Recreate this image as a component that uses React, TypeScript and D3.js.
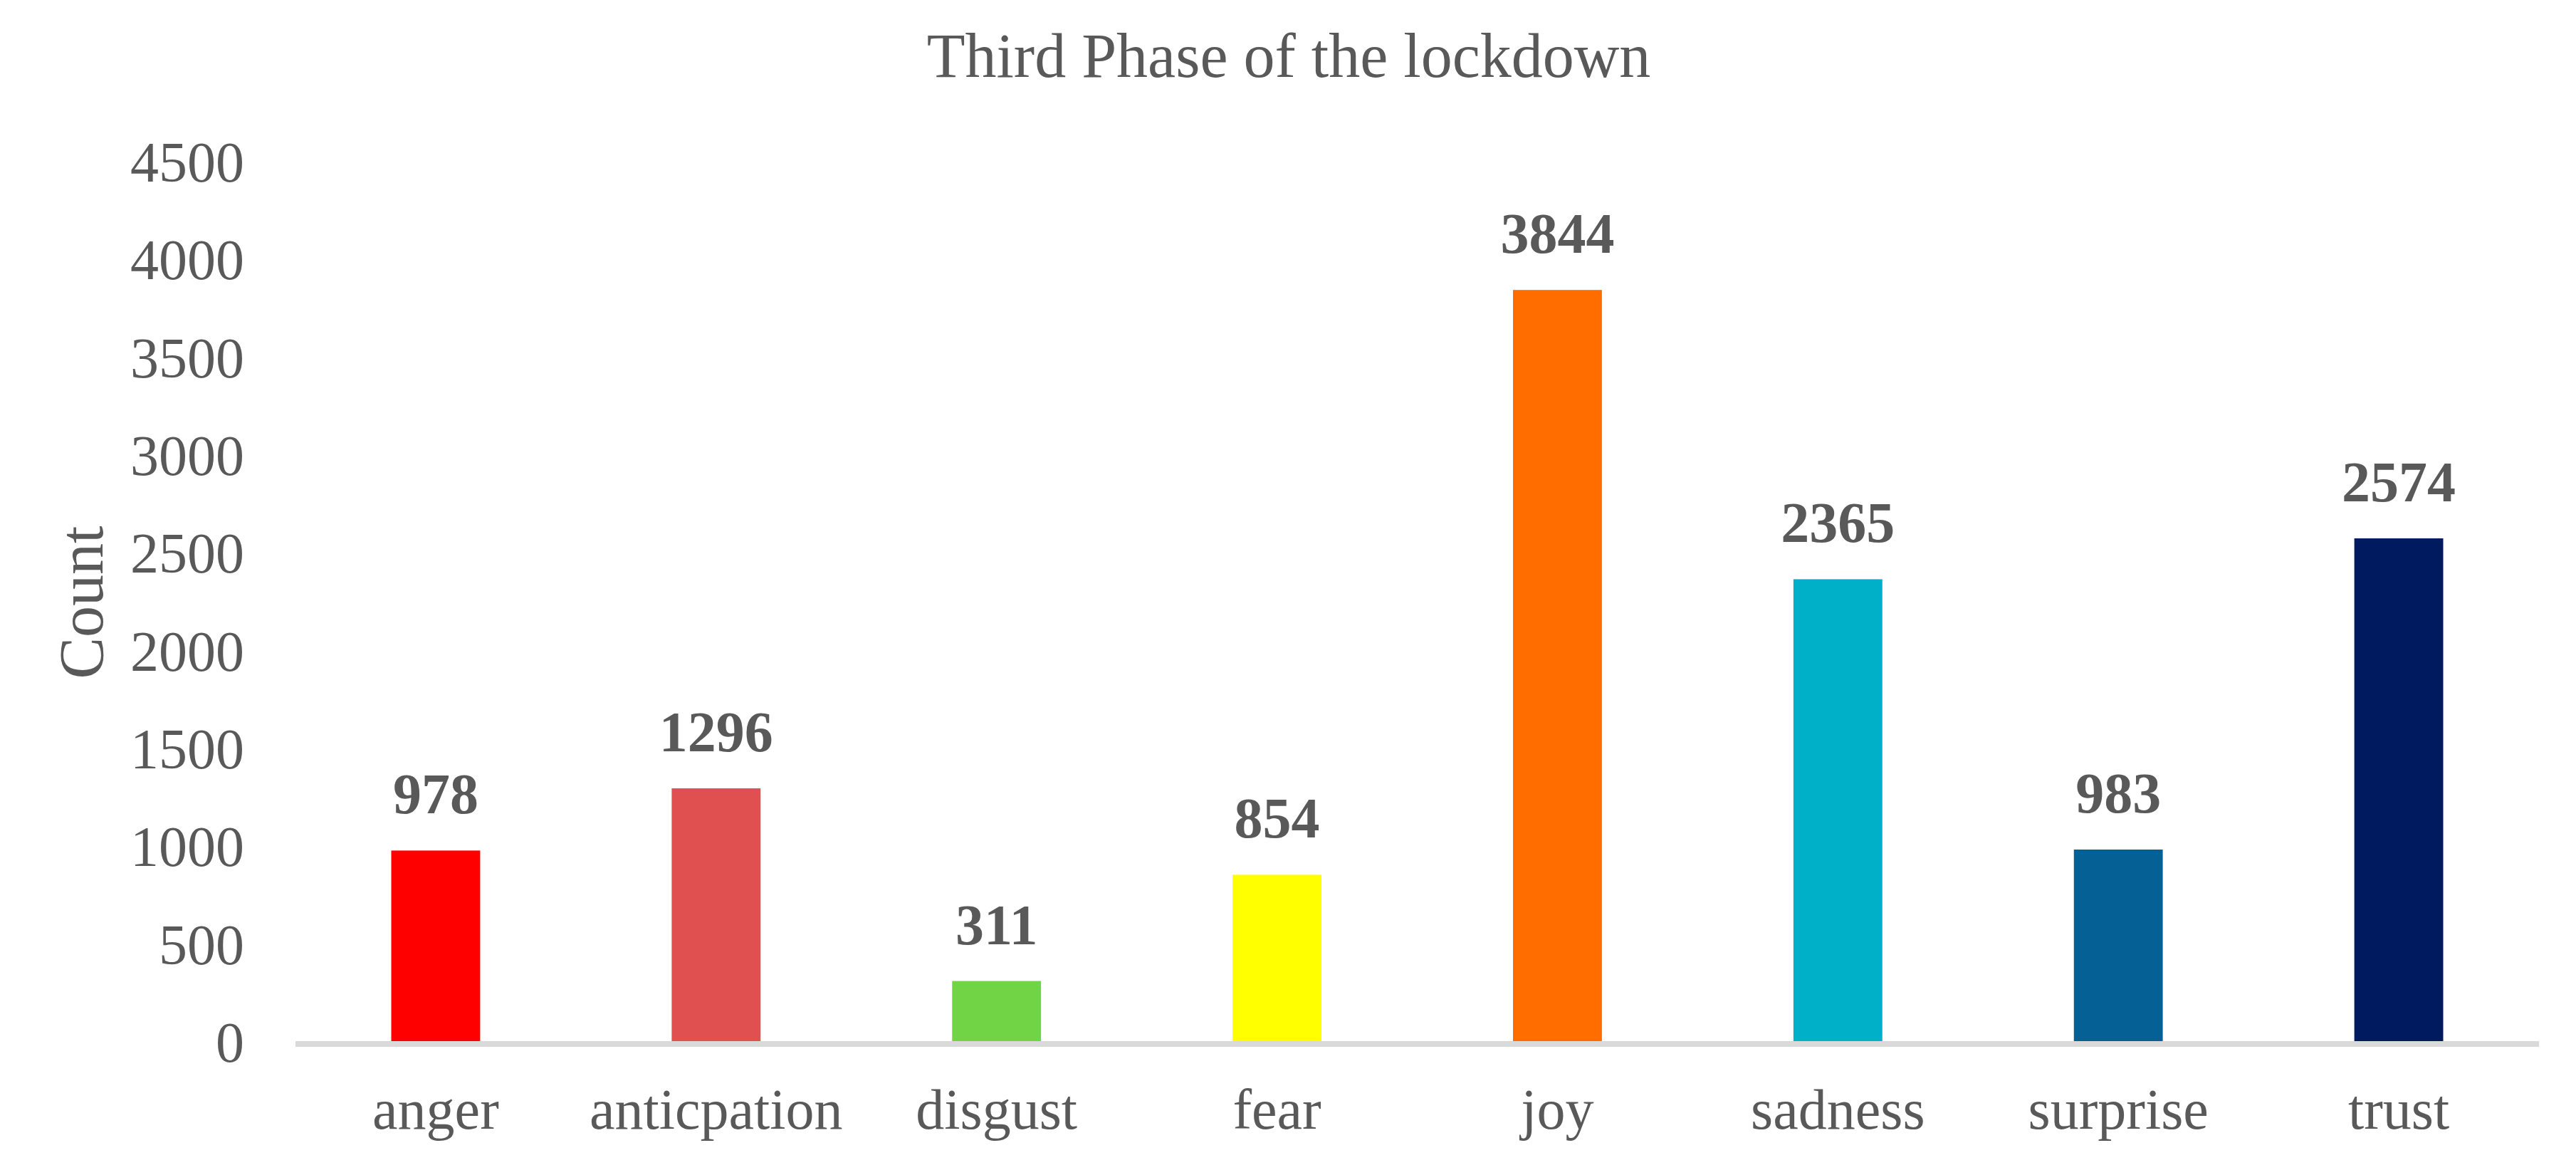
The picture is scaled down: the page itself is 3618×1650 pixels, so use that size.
import React from "react";
import * as d3 from "d3";

const categories = ["anger", "anticpation", "disgust", "fear", "joy", "sadness", "surprise", "trust"];
const counts = [978, 1296, 311, 854, 3844, 2365, 983, 2574];
const barColors = ["#FF0000", "#E05050", "#70D444", "#FFFF00", "#FF6D00", "#00AFC8", "#056195", "#001A5F"];
const yTicks = [0, 500, 1000, 1500, 2000, 2500, 3000, 3500, 4000, 4500];
const title = "Third Phase of the lockdown";
const yTitle = "Count";

const W = 3618;
const H = 1650;
const FONT = "'Liberation Serif', 'Times New Roman', serif";
const TEXT = "#595959";

export default function App() {
  const x = d3
    .scaleBand<string>()
    .domain(categories)
    .range([415, 3566])
    .paddingInner(0.683)
    .paddingOuter(0.3415);
  const y = d3.scaleLinear().domain([0, 4500]).range([1463, 227]);

  return (
    <svg
      width={W}
      height={H}
      viewBox={`0 0 ${W} ${H}`}
      style={{ position: "absolute", left: 0, top: 0, background: "#fff" }}
      fontFamily={FONT}
    >
      <rect x={0} y={0} width={W} height={H} fill="#fff" />
      <text x={1810} y={108} textAnchor="middle" fontSize={88} fill={TEXT}>
        {title}
      </text>
      <text
        transform={`translate(144,846) rotate(-90)`}
        textAnchor="middle"
        fontSize={88}
        fill={TEXT}
      >
        {yTitle}
      </text>
      {yTicks.map((t) => (
        <text key={t} x={343} y={y(t) + 28} textAnchor="end" fontSize={80} fill={TEXT}>
          {t}
        </text>
      ))}
      {categories.map((c, i) => {
        const bx = x(c) as number;
        const bw = x.bandwidth();
        return (
          <g key={c}>
            <rect x={bx} y={y(counts[i])} width={bw} height={y(0) - y(counts[i])} fill={barColors[i]} />
            <text
              x={bx + bw / 2}
              y={y(counts[i]) - 52}
              textAnchor="middle"
              fontSize={80}
              fontWeight="bold"
              fill={TEXT}
            >
              {counts[i]}
            </text>
            <text x={bx + bw / 2} y={1585} textAnchor="middle" fontSize={80} fill={TEXT}>
              {c}
            </text>
          </g>
        );
      })}
      <line x1={415} x2={3566} y1={y(0) + 3} y2={y(0) + 3} stroke="#D9D9D9" strokeWidth={8} />
    </svg>
  );
}
